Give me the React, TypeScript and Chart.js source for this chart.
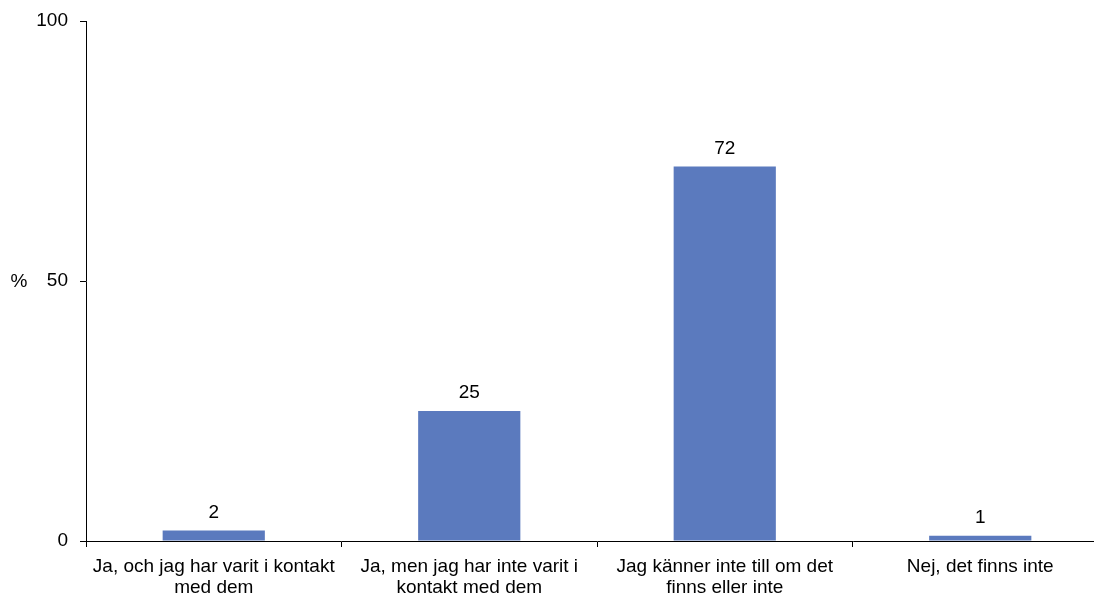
import React, { useEffect, useRef } from "react";
import { Chart, registerables } from "chart.js";

Chart.register(...registerables);

const categories: string[][] = [
  ["Ja, och jag har varit i kontakt", "med dem"],
  ["Ja, men jag har inte varit i", "kontakt med dem"],
  ["Jag känner inte till om det", "finns eller inte"],
  ["Nej, det finns inte"],
];
const values: number[] = [2, 25, 72, 1];
const yTicks: number[] = [0, 50, 100];
const yTitle = "%";

const FONT = "'Liberation Sans', Arial, sans-serif";
const FS = 19;

const valueLabels = {
  id: "valueLabels",
  afterDatasetsDraw(chart: any) {
    const ctx = chart.ctx;
    const meta = chart.getDatasetMeta(0);
    ctx.save();
    ctx.font = `${FS}px ${FONT}`;
    ctx.fillStyle = "#000";
    ctx.textAlign = "center";
    ctx.textBaseline = "middle";
    meta.data.forEach((bar: any, i: number) => {
      ctx.fillText(String(values[i]), bar.x, bar.y - 18);
    });
    const yS = chart.scales.y;
    ctx.fillText(yTitle, 19, yS.getPixelForValue(50) + 1);
    ctx.restore();
  },
};

export default function App() {
  const ref = useRef<HTMLCanvasElement | null>(null);
  useEffect(() => {
    if (!ref.current) return;
    const chart = new Chart(ref.current, {
      type: "bar",
      data: {
        labels: categories,
        datasets: [
          {
            data: values,
            backgroundColor: "#5B7ABE",
            barPercentage: 0.4,
            categoryPercentage: 1,
          },
        ],
      },
      options: {
        animation: false,
        responsive: false,
        maintainAspectRatio: false,
        layout: { padding: { top: 0, right: 0, left: 0, bottom: 0 } },
        plugins: { legend: { display: false }, tooltip: { enabled: false } },
        scales: {
          x: {
            offset: true,
            grid: {
              display: true,
              offset: true,
              drawOnChartArea: false,
              tickLength: 6,
              color: "#000",
            },
            border: { display: true, color: "#000", width: 1 },
            ticks: {
              color: "#000",
              font: { size: FS, family: FONT, lineHeight: 1.1 },
              padding: 9,
              maxRotation: 0,
              autoSkip: false,
            },
            afterFit(scale: any) {
              scale.height = 54;
            },
          },
          y: {
            min: 0,
            max: 100,
            afterBuildTicks(scale: any) {
              scale.ticks = yTicks.map((v) => ({ value: v }));
            },
            grid: {
              display: true,
              drawOnChartArea: false,
              tickLength: 6,
              color: "#000",
            },
            border: { display: true, color: "#000", width: 1 },
            ticks: {
              color: "#000",
              font: { size: FS, family: FONT },
              padding: 12,
            },
            afterFit(scale: any) {
              scale.width = 86;
              scale.paddingTop = 21;
            },
          },
        },
      },
      plugins: [valueLabels],
    });
    return () => chart.destroy();
  }, []);
  return (
    <div
      style={{
        position: "fixed",
        left: 0,
        top: 0,
        width: 1094,
        height: 595,
        overflow: "hidden",
        background: "#fff",
      }}
    >
      <canvas ref={ref} width={1108} height={595} style={{ display: "block" }} />
    </div>
  );
}
